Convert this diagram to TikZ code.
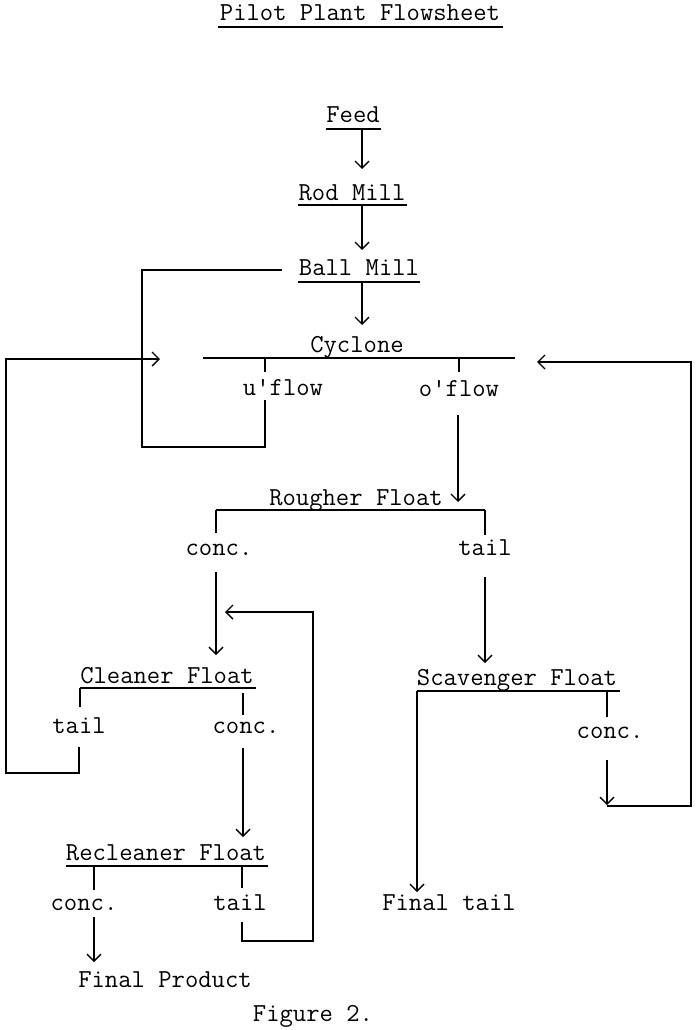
\documentclass[tikz,border=0pt]{standalone}
\usepackage{fontspec}
\usetikzlibrary{arrows.meta}
\begin{document}
\begin{tikzpicture}[x=1pt,y={(0pt,-1pt)},
  lbl/.style={font=\fontsize{25.9}{30}\selectfont\ttfamily, inner sep=0pt, anchor=base},
  ln/.style={line width=1.4pt, line join=miter},
  arr/.style={ln, -{Straight Barb[length=7pt,width=14pt,line width=1.4pt]}}]
\useasboundingbox (0,0) rectangle (698,1030);

% ---- texts ----
\node[lbl] (title) at (360,21) {Pilot Plant Flowsheet};
\node[lbl] (feed) at (353,123) {Feed};
\node[lbl] (rod) at (352,200) {Rod Mill};
\node[lbl] (ball) at (359,275) {Ball Mill};
\node[lbl] (cyc) at (357,352) {Cyclone};
\node[lbl] (uflow) at (283,395) {u'flow};
\node[lbl] (oflow) at (459,396) {o'flow};
\node[lbl] (rough) at (356,505) {Rougher Float};
\node[lbl] (rconc) at (219,555) {conc.};
\node[lbl] (rtail) at (485,555) {tail};
\node[lbl] (clean) at (167,683) {Cleaner Float};
\node[lbl] (ctail) at (79,733) {tail};
\node[lbl] (cconc) at (246,733) {conc.};
\node[lbl] (reclean) at (166,860) {Recleaner Float};
\node[lbl] (rcconc) at (84,910) {conc.};
\node[lbl] (rctail) at (240,910) {tail};
\node[lbl] (prod) at (165,987) {Final Product};
\node[lbl] (scav) at (517,685) {Scavenger Float};
\node[lbl] (sconc) at (610,738) {conc.};
\node[lbl] (ftail) at (449,910) {Final tail};
\node[lbl] (fig) at (313,1021) {Figure 2.};

% ---- underlines / header bars ----
\coordinate (titleL) at (218,27); \coordinate (titleR) at (503,27);
\coordinate (feedL) at (326,129); \coordinate (feedR) at (381,129);
\coordinate (rodL) at (298,205); \coordinate (rodR) at (407,205);
\coordinate (ballL) at (298,282); \coordinate (ballR) at (420,282);
\coordinate (cycL) at (203,358); \coordinate (cycR) at (515,358);
\coordinate (roughL) at (216,510); \coordinate (roughR) at (485,510);
\coordinate (cleanL) at (80,688); \coordinate (cleanR) at (256,688);
\coordinate (recleanL) at (66,866); \coordinate (recleanR) at (268,866);
\coordinate (scavL) at (417,691); \coordinate (scavR) at (620,691);

\draw[ln] (titleL) -- (titleR);
\draw[ln] (feedL) -- (feedR);
\draw[ln] (rodL) -- (rodR);
\draw[ln] (ballL) -- (ballR);
\draw[ln] (cycL) -- (cycR);
\draw[ln] (roughL) -- (roughR);
\draw[ln] (cleanL) -- (cleanR);
\draw[ln] (recleanL) -- (recleanR);
\draw[ln] (scavL) -- (scavR);

% ---- main chain ----
\draw[arr] (362,129) -- (362,169);
\draw[arr] (362,205) -- (362,250);
\draw[arr] (362,282) -- (362,325);

% cyclone ticks
\draw[ln] (265,358) -- (265,372);
\draw[ln] (459,358) -- (459,372);

% u'flow recirculation to ball mill
\draw[ln] (265,400) -- (265,447) -- (142,447) -- (142,270) -- (282,270);

% o'flow to rougher
\draw[arr] (458,415) -- (458,502);

% rougher ticks
\draw[ln] (216,510) -- (216,533);
\draw[ln] (485,510) -- (485,535);
% rougher conc to cleaner
\draw[arr] (216,572) -- (216,655);
% rougher tail to scavenger
\draw[arr] (485,577) -- (485,663);

% cleaner ticks
\draw[ln] (80,688) -- (80,707);
\draw[ln] (243,693) -- (243,715);
% cleaner tail back to cyclone feed
\draw[arr] (79,747) -- (79,773) -- (6,773) -- (6,359) -- (160,359);
% cleaner conc to recleaner
\draw[arr] (243,748) -- (243,837);

% recleaner ticks
\draw[ln] (94,866) -- (94,890);
\draw[ln] (242,866) -- (242,888);
% recleaner conc to final product
\draw[arr] (94,917) -- (94,962);
% recleaner tail back to cleaner
\draw[arr] (242,922) -- (242,941) -- (313,941) -- (313,612) -- (225,612);

% scavenger
\draw[arr] (417,691) -- (417,892);
\draw[ln] (607,691) -- (607,717);
\draw[arr] (607,760) -- (607,805);
\draw[arr] (607,806) -- (691,806) -- (691,362) -- (537,362);
\end{tikzpicture}
\end{document}
